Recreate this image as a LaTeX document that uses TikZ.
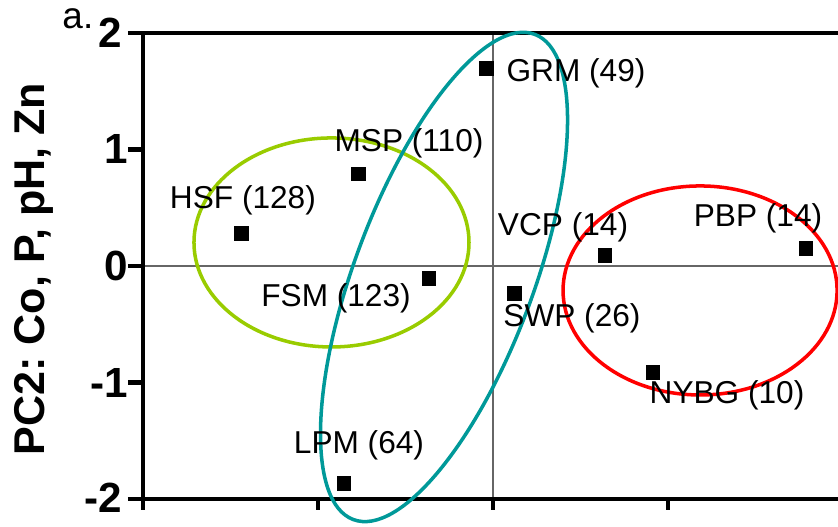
\documentclass[tikz,border=0pt]{standalone}
\usepackage{fontspec}
\setmainfont{Liberation Sans}
\usepackage{tikz}
\usetikzlibrary{positioning}
\definecolor{limering}{RGB}{153,204,0}
\definecolor{tealring}{RGB}{0,153,153}
\definecolor{redring}{RGB}{255,0,0}
\newcommand{\lblfont}{\fontsize{18}{20}\selectfont}
\newcommand{\tickfont}{\fontsize{24}{26}\selectfont\bfseries}
\frenchspacing

\begin{document}
\begin{tikzpicture}[x=3.5cm,y=2.33cm,
		sq/.style={fill=black,minimum size=0.29cm,inner sep=0pt},
		lbl/.style={font=\lblfont,inner sep=0pt},
		tick/.style={font=\tickfont,inner sep=0pt,anchor=east},
		axis/.style={line width=2.3pt},
		zero/.style={line width=0.85pt,black!60},
		ring/.style={line width=2pt}]
		\useasboundingbox (-2.817,-2.232) rectangle (1.971,2.283);
		%
		\node[font=\fontsize{24.5}{26}\selectfont\bfseries,rotate=90] (ytitle) at (-2.623,-0.026) {PC2: Co, P, pH, Zn};
		\node[font=\fontsize{21}{23}\selectfont,inner sep=0pt] (panel) at (-2.372,2.125) {a.};
		%
		\node[tick] (t2) at (-2.12,2.0) {2};
		\node[tick] (t1) at (-2.086,1) {1};
		\node[tick] (t0) at (-2.086,0) {0};
		\node[tick] (tm1) at (-2.086,-1) {-1};
		\node[tick] (tm2) at (-2.12,-1.99) {-2};
		%
		%Zero lines
		\draw[zero] (0,-2) -- (0,2);
		\draw[zero] (-2,0) -- (2,0);
		%
		%Axes and ticks
		\draw[axis] (-2,2) -- (-2,-2.094);
		\draw[axis] (-2.086,-2) -- (2,-2);
		\draw[axis] (-2.086,2) -- (2,2);
		\foreach \y in {1,0,-1}
			\draw[axis] (-2.086,\y) -- (-2,\y);
		\foreach \x in {-1,0,1}
			\draw[axis] (\x,-2) -- (\x,-2.094);
		%
		%Groups
		\draw[ring,limering] (-0.923,0.202) ellipse (2.75cm and 2.09cm);
		\draw[ring,redring] (1.183,-0.21) ellipse (2.74cm and 2.09cm);
		\draw[ring,tealring,rotate around={69.5:(-0.28,-0.094)}] (-0.28,-0.094) ellipse (5.18cm and 1.79cm);
		%
		%Sites
		\node[sq] (grm) at (-0.038,1.697) {};
		\node[sq] (msp) at (-0.77,0.790) {};
		\node[sq] (hsf) at (-1.437,0.280) {};
		\node[sq] (fsm) at (-0.367,-0.106) {};
		\node[sq] (vcp) at (0.64,0.092) {};
		\node[sq] (swp) at (0.122,-0.235) {};
		\node[sq] (pbp) at (1.787,0.152) {};
		\node[sq] (nybg) at (0.915,-0.912) {};
		\node[sq] (lpm) at (-0.851,-1.865) {};
		%
		\node[lbl] (grml) at (0.474,1.657) {GRM (49)};
		\node[lbl] (mspl) at (-0.48,1.056) {MSP (110)};
		\node[lbl] (hsfl) at (-1.429,0.567) {HSF (128)};
		\node[lbl] (fsml) at (-0.897,-0.275) {FSM (123)};
		\node[lbl] (vcpl) at (0.4,0.335) {VCP (14)};
		\node[lbl] (swpl) at (0.451,-0.446) {SWP (26)};
		\node[lbl] (pbpl) at (1.514,0.412) {PBP (14)};
		\node[lbl] (nybgl) at (1.337,-1.107) {NYBG (10)};
		\node[lbl] (lpml) at (-0.766,-1.536) {LPM (64)};
	\end{tikzpicture}
\end{document}
